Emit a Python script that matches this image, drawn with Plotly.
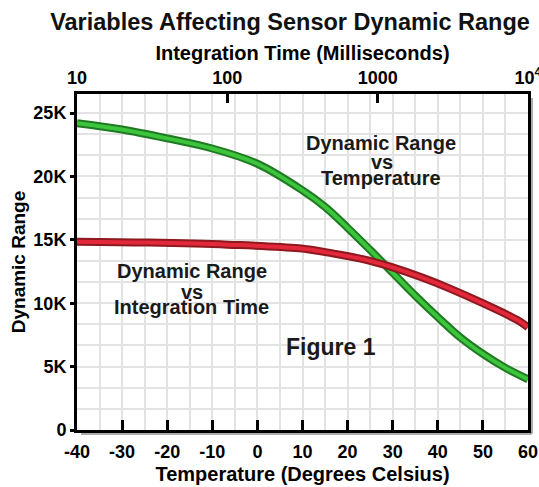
import plotly.graph_objects as go

# ---- data ----
temperature_c = [-40, -30, -20, -10, 0, 10, 15, 20, 25, 30, 35, 40, 45, 50, 55, 60]
range_vs_temperature = [24200, 23700, 23000, 22200, 21000, 18900, 17600, 15950, 14200,
                        12400, 10600, 8900, 7300, 6000, 4900, 4000]

integration_ms = [10, 30, 100, 300, 500, 850, 1200, 2000, 3000, 5000, 8500, 10000]
range_vs_integration = [14850, 14780, 14620, 14330, 13930, 13400, 12900, 12000, 11170,
                        10000, 8670, 8100]

temp_ticks = [-40, -30, -20, -10, 0, 10, 20, 30, 40, 50, 60]
temp_tick_text = ["-40", "-30", "-20", "-10", "0", "10", "20", "30", "40", "50", "60"]
time_ticks = [10, 100, 1000, 10000]
time_tick_text = ["10", "100", "1000", "10<sup>4</sup>"]
range_ticks = [0, 5000, 10000, 15000, 20000, 25000]
range_tick_text = ["0", "5K", "10K", "15K", "20K", "25K"]

FONT = "Liberation Sans, Arial, sans-serif"
GRID = "#e3e3e3"
PLOT_W, PLOT_H = 451, 336

fig = go.Figure()

# green curve (vs temperature) – dark rim + bright core
fig.add_trace(go.Scatter(x=temperature_c, y=range_vs_temperature, mode="lines",
                         line=dict(color="#1f7a22", width=8, shape="spline"),
                         xaxis="x", yaxis="y", hoverinfo="skip", showlegend=False))
fig.add_trace(go.Scatter(x=temperature_c, y=range_vs_temperature, mode="lines",
                         line=dict(color="#3cc43c", width=4, shape="spline"),
                         xaxis="x", yaxis="y", showlegend=False))
# red curve (vs integration time) – dark rim + bright core
fig.add_trace(go.Scatter(x=integration_ms, y=range_vs_integration, mode="lines",
                         line=dict(color="#8e1a20", width=8, shape="spline"),
                         xaxis="x2", yaxis="y", hoverinfo="skip", showlegend=False))
fig.add_trace(go.Scatter(x=integration_ms, y=range_vs_integration, mode="lines",
                         line=dict(color="#e2283a", width=4, shape="spline"),
                         xaxis="x2", yaxis="y", showlegend=False))

tickfont = dict(family=FONT, size=18, color="black", weight="bold")
titlefont = dict(family=FONT, size=20, color="black", weight="bold")

fig.update_layout(
    width=539, height=487,
    margin=dict(l=77, r=11, t=94, b=57, autoexpand=False),
    paper_bgcolor="white", plot_bgcolor="white",
    showlegend=False,
    title=dict(text="Variables Affecting Sensor Dynamic Range",
               font=dict(family=FONT, size=23.5, color="#111", weight="bold"),
               xref="container", x=290 / 539, xanchor="center",
               yref="container", y=1 - 22 / 487, yanchor="middle"),
    xaxis=dict(range=[-40, 60], tickmode="array", tickvals=temp_ticks, ticktext=temp_tick_text,
               ticks="inside", ticklen=10, tickwidth=3, tickcolor="black",
               showline=True, linecolor="black", linewidth=3, mirror=True,
               showgrid=True, gridcolor=GRID, gridwidth=2,
               minor=dict(tickmode="linear", tick0=-40, dtick=5, showgrid=True,
                          gridcolor=GRID, gridwidth=2, ticks=""),
               zeroline=False, tickfont=tickfont, automargin=False, ticklabelstandoff=3,
               ticklabeloverflow="allow",
               title=dict(text="Temperature (Degrees Celsius)", font=titlefont, standoff=7)),
    xaxis2=dict(type="log", range=[1, 4], overlaying="x", side="top", anchor="y",
                tickmode="array", tickvals=time_ticks, ticktext=time_tick_text,
                ticks="inside", ticklen=9, tickwidth=3, tickcolor="black",
                showline=True, linecolor="black", linewidth=3,
                showgrid=False, zeroline=False, tickfont=tickfont, automargin=False,
                ticklabeloverflow="allow",
                title=dict(text="Integration Time (Milliseconds)", font=titlefont, standoff=0)),
    yaxis=dict(range=[0, 26500], tickmode="array", tickvals=range_ticks, ticktext=range_tick_text,
               ticks="outside", ticklen=4, tickwidth=3, tickcolor="black",
               showline=True, linecolor="black", linewidth=3, mirror=True,
               showgrid=True, gridcolor=GRID, gridwidth=2,
               minor=dict(tickmode="linear", tick0=0, dtick=5000 / 3, showgrid=True,
                          gridcolor=GRID, gridwidth=2, ticks=""),
               zeroline=False, tickfont=tickfont, automargin=False,
               title=dict(text="Dynamic Range", font=dict(family=FONT, size=19, color="black",
                                                           weight="bold"), standoff=3)),
)

# soft drop shadow under the bottom and right frame lines
shadow = "rgba(0,0,0,0.32)"
fig.add_shape(type="line", xref="paper", yref="paper", layer="below",
              x0=4 / PLOT_W, x1=1 + 3.5 / PLOT_W, y0=-3.5 / PLOT_H, y1=-3.5 / PLOT_H,
              line=dict(color=shadow, width=3))
fig.add_shape(type="line", xref="paper", yref="paper", layer="below",
              x0=1 + 3.5 / PLOT_W, x1=1 + 3.5 / PLOT_W, y0=-3.5 / PLOT_H, y1=1 - 4 / PLOT_H,
              line=dict(color=shadow, width=3))

ann_font = dict(family=FONT, size=20, color="#1a1a1a", weight="bold")
labels = [
    ("Dynamic Range", 27.3, 22670),
    ("vs", 27.6, 21170),
    ("Temperature", 27.4, 19870),
    ("Dynamic Range", -14.6, 12540),
    ("vs", -14.6, 10880),
    ("Integration Time", -14.6, 9700),
]
for text, x, y in labels:
    fig.add_annotation(text=text, x=x, y=y, xref="x", yref="y", showarrow=False,
                       xanchor="center", yanchor="middle", font=ann_font)
fig.add_annotation(text="Figure 1", x=16.3, y=6550, xref="x", yref="y", showarrow=False,
                   xanchor="center", yanchor="middle",
                   font=dict(family=FONT, size=23, color="#1a1a1a", weight="bold"))

# remove the default page margin so the 539x487 figure sits at the window origin
fig.write_html("out.html", config={"displayModeBar": False},
               post_script="document.body.style.margin='0';")
